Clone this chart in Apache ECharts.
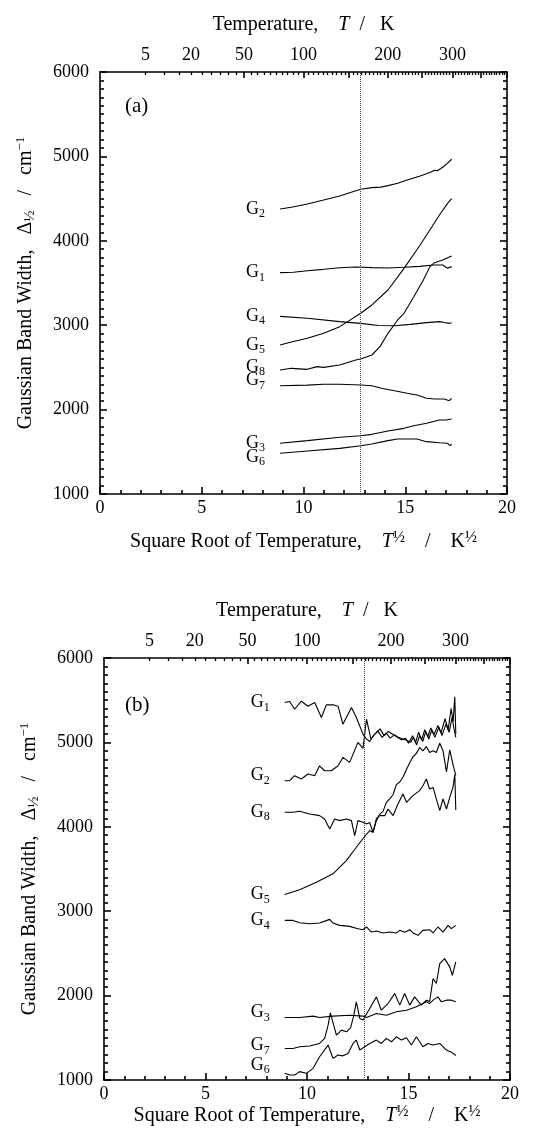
<!DOCTYPE html>
<html><head><meta charset="utf-8">
<script src="https://cdn.jsdelivr.net/npm/echarts@6/dist/echarts.min.js"></script>
<style>html,body{margin:0;padding:0;background:#fff}#c{width:544px;height:1145px}</style>
</head><body><div id="c"></div>
<script>
const FONT = 'Liberation Serif';

// ---- tick / label values ----
const topLabelT = [5, 20, 50, 100, 200, 300];
const topMajorT = [50, 100, 150, 200, 250, 300, 350, 400];
const topMinorT = [5,10,15,20,25,30,35,40,45,55,60,65,70,75,80,85,90,95,105,110,115,120,125,130,135,140,145,155,160,165,170,175,180,185,190,195,205,210,215,220,225,230,235,240,245,255,260,265,270,275,280,285,290,295,305,310,315,320,325,330,335,340,345,355,360,365,370,375,380,385,390,395];
const yRange = [1000, 6000];
const tgLine = 12.8; // dotted reference line, sqrt(K)

// ---- panel (a) ----
const a_G2 = [[8.85,4377],[9.40,4397],[10.19,4437],[10.99,4484],[11.78,4531],[12.57,4594],[12.81,4610],[13.36,4630],[13.8,4636],[14.15,4654],[14.63,4682],[15.10,4721],[15.73,4768],[16.21,4808],[16.44,4836],[16.6,4832],[16.84,4871],[17.08,4920],[17.28,4966]];
const a_G1 = [[8.85,3623],[9.5,3628],[10.19,3646],[10.99,3662],[11.78,3680],[12.57,3690],[13.36,3682],[14.15,3678],[14.94,3686],[15.73,3697],[16.37,3713],[16.84,3713],[17.08,3674],[17.28,3694]];
const a_G5 = [[8.85,2766],[9.40,2800],[10.19,2845],[10.99,2904],[11.78,2983],[12.17,3042],[12.81,3141],[13.36,3240],[14.15,3417],[14.94,3674],[15.73,3950],[16.21,4128],[16.68,4306],[17.08,4444],[17.28,4500]];
const a_G8 = [[8.85,2469],[9.40,2489],[10.19,2477],[10.67,2509],[10.99,2500],[11.78,2529],[12.57,2588],[12.81,2600],[13.36,2647],[13.76,2746],[14.15,2904],[14.63,3062],[14.94,3141],[15.42,3338],[15.89,3536],[16.21,3694],[16.44,3741],[16.84,3773],[17.28,3820]];
const a_G4 = [[8.85,3105],[10.19,3082],[11.78,3042],[12.81,3022],[13.68,2996],[14.47,2994],[15.26,3010],[16.05,3030],[16.7,3042],[16.92,3032],[17.16,3022],[17.28,3030]];
const a_G7 = [[8.85,2283],[10.19,2290],[10.99,2300],[11.78,2300],[12.81,2292],[13.36,2283],[13.83,2252],[14.47,2224],[15.10,2193],[15.57,2173],[16.05,2134],[16.44,2126],[16.92,2126],[17.16,2106],[17.28,2134]];
const a_G3 = [[8.85,1601],[10.19,1632],[11.78,1672],[12.81,1691],[13.36,1707],[14.15,1747],[14.94,1778],[15.42,1809],[16.05,1838],[16.68,1877],[17.0,1877],[17.28,1889]];
const a_G6 = [[8.85,1482],[10.19,1510],[11.78,1541],[12.81,1572],[13.36,1592],[14.15,1632],[14.63,1652],[15.57,1652],[16.05,1620],[16.68,1608],[17.08,1601],[17.20,1572],[17.28,1592]];

// ---- panel (b) ----
const b_G1 = [[8.90,5472],[9.15,5484],[9.39,5393],[9.72,5488],[10.05,5429],[10.38,5472],[10.71,5295],[10.95,5445],[11.28,5445],[11.53,5429],[11.77,5216],[12.19,5413],[12.43,5295],[12.76,5098],[12.93,5039],[13.09,5010],[13.3,5090],[13.5,5130],[13.7,5060],[13.9,5110],[14.1,5050],[14.3,5090],[14.5,5060],[14.7,5040],[14.9,5030],[15.1,5000],[15.25,5060],[15.4,4970],[15.55,5080],[15.7,5010],[15.85,5130],[16.0,5040],[16.15,5150],[16.3,5060],[16.5,5180],[16.65,5080],[16.85,5220],[17.0,5120],[17.15,5300],[17.25,5150],[17.33,5060]];
const b_G2 = [[8.90,4546],[9.15,4546],[9.39,4605],[9.72,4566],[10.05,4625],[10.38,4605],[10.62,4723],[10.87,4664],[11.2,4664],[11.53,4723],[11.77,4822],[12.1,4763],[12.51,5000],[12.76,4930],[12.93,5275],[13.15,5040],[13.42,5120],[13.6,5160],[13.8,5080],[14.0,5130],[14.2,5100],[14.45,5060],[14.65,5030],[14.85,5050],[15.0,4990],[15.2,5080],[15.35,5000],[15.5,5120],[15.65,5030],[15.8,5150],[15.95,5070],[16.1,5170],[16.25,5090],[16.45,5200],[16.6,5110],[16.8,5280],[16.95,5150],[17.1,5400],[17.2,5250],[17.28,5540],[17.33,5100]];
const b_G8 = [[8.90,4172],[9.31,4172],[9.64,4184],[10.13,4152],[10.62,4132],[10.87,4093],[11.12,3975],[11.36,4093],[11.61,4073],[11.94,4093],[12.19,4073],[12.35,3896],[12.51,4073],[12.76,4054],[12.93,4034],[13.09,4050],[13.25,3935],[13.42,4100],[13.58,4132],[13.83,4132],[13.99,4211],[14.24,4132],[14.48,4270],[14.73,4389],[14.9,4290],[15.22,4369],[15.55,4428],[15.71,4487],[15.88,4566],[16.04,4448],[16.21,4467],[16.37,4330],[16.54,4191],[16.7,4330],[16.87,4211],[17.03,4349],[17.19,4467],[17.28,4620],[17.33,4200]];
const b_G5 = [[8.90,3199],[9.64,3254],[10.46,3344],[11.28,3443],[11.94,3600],[12.43,3758],[12.81,3876],[13.09,3955],[13.25,3935],[13.42,4073],[13.58,4150],[13.74,4180],[13.91,4290],[14.07,4330],[14.24,4380],[14.40,4500],[14.57,4530],[14.73,4590],[14.9,4680],[15.06,4760],[15.22,4830],[15.39,4870],[15.55,4940],[15.71,4900],[15.88,4950],[16.04,4880],[16.21,4900],[16.37,4880],[16.54,4990],[16.7,4900],[16.87,4650],[17.03,4910],[17.19,4740],[17.33,4610]];
const b_G4 = [[8.90,2891],[9.31,2891],[9.64,2864],[10.13,2852],[10.62,2860],[11.12,2903],[11.28,2860],[11.61,2832],[12.10,2820],[12.51,2793],[12.76,2781],[12.93,2813],[13.17,2753],[13.42,2765],[13.74,2742],[14.07,2753],[14.40,2742],[14.57,2773],[14.81,2750],[15.06,2781],[15.22,2742],[15.47,2714],[15.71,2773],[16.04,2781],[16.21,2742],[16.45,2813],[16.70,2753],[16.95,2832],[17.11,2793],[17.33,2832]];
const b_G3 = [[8.90,1741],[9.64,1741],[10.30,1757],[10.62,1741],[11.28,1757],[12.10,1768],[12.76,1757],[12.93,1741],[13.42,1788],[13.91,1768],[14.40,1808],[14.90,1827],[15.39,1867],[15.88,1926],[16.04,1906],[16.21,1946],[16.45,1985],[16.62,1926],[16.87,1946],[17.11,1946],[17.33,1926]];
const b_G7 = [[8.90,1374],[9.31,1374],[9.64,1394],[10.13,1402],[10.62,1433],[10.87,1493],[11.04,1650],[11.15,1796],[11.45,1532],[11.7,1591],[11.95,1571],[12.15,1620],[12.3,1760],[12.43,1926],[12.6,1729],[12.76,1710],[13.09,1847],[13.42,1985],[13.66,1827],[13.99,1906],[14.32,2024],[14.57,1887],[14.81,2024],[15.06,1887],[15.30,1985],[15.63,1887],[15.88,1946],[16.04,1930],[16.21,2202],[16.37,2143],[16.54,2379],[16.78,2438],[17.03,2340],[17.16,2241],[17.33,2399]];
const b_G6 = [[8.90,1079],[9.15,1059],[9.39,1059],[9.64,1099],[9.97,1079],[10.30,1138],[10.62,1276],[11.04,1414],[11.28,1256],[11.53,1296],[11.77,1286],[12.02,1315],[12.27,1433],[12.43,1473],[12.60,1355],[12.84,1394],[13.09,1433],[13.42,1473],[13.66,1433],[13.91,1493],[14.16,1453],[14.40,1512],[14.65,1473],[14.90,1500],[15.14,1414],[15.39,1512],[15.71,1394],[15.96,1433],[16.21,1414],[16.54,1433],[16.87,1355],[17.11,1330],[17.33,1290]];

const panelA = [['1',a_G1,0],['2',a_G2,0],['3',a_G3,0],['4',a_G4,0],['5',a_G5,0],['6',a_G6,4],['7',a_G7,-5],['8',a_G8,-3]];
const panelB = [['1',b_G1,0],['2',b_G2,-5],['3',b_G3,-5],['4',b_G4,0],['5',b_G5,0],['6',b_G6,-8],['7',b_G7,-3],['8',b_G8,0]];

const black = '#000';
const nameStyle = {
  color: black, fontFamily: FONT, fontSize: 20, lineHeight: 24,
  rich: {
    i: {fontFamily: FONT, fontSize: 20, fontStyle: 'italic', lineHeight: 24, verticalAlign: 'middle', color: black},
    sup: {fontFamily: FONT, fontSize: 16, lineHeight: 15, verticalAlign: 'top', color: black},
    sup2: {fontFamily: FONT, fontSize: 13, lineHeight: 12, verticalAlign: 'top', color: black},
    sub: {fontFamily: FONT, fontSize: 15, lineHeight: 13, verticalAlign: 'bottom', color: black}
  }
};
const lineSt = {color: black, width: 1.6};
const tickSt = {color: black, width: 1.6};

function xAxes(g, bottomGap) {
  return [
    {gridIndex: g, type: 'value', min: 0, max: 20, interval: 5, position: 'bottom',
     axisLine: {show: true, onZero: false, lineStyle: lineSt},
     axisTick: {show: true, inside: true, length: 7, lineStyle: tickSt},
     minorTick: {show: true, splitNumber: 5, length: 4, lineStyle: tickSt},
     splitLine: {show: false}, minorSplitLine: {show: false},
     axisLabel: {color: black, fontFamily: FONT, fontSize: 18, margin: 5},
     name: 'Square Root of Temperature,    {i|T}{sup|½}    /    K{sup|½}', nameLocation: 'middle', nameGap: bottomGap, nameTextStyle: nameStyle},
    {gridIndex: g, type: 'value', min: 0, max: 20, position: 'top',
     axisLine: {show: true, onZero: false, lineStyle: lineSt},
     axisTick: {show: true, inside: true, length: 6, lineStyle: tickSt, customValues: topMajorT.map(Math.sqrt)},
     splitLine: {show: false},
     axisLabel: {color: black, fontFamily: FONT, fontSize: 18, margin: 8,
       customValues: topLabelT.map(Math.sqrt), formatter: v => String(Math.round(v * v))},
     name: 'Temperature,    {i|T}  /   K', nameLocation: 'middle', nameGap: 35, nameTextStyle: nameStyle},
    {gridIndex: g, type: 'value', min: 0, max: 20, position: 'top',
     axisLine: {show: false, onZero: false},
     axisTick: {show: true, inside: true, length: 3, lineStyle: {color: black, width: 1.3}, customValues: topMinorT.map(Math.sqrt)},
     splitLine: {show: false}, axisLabel: {show: false}}
  ];
}
function yAxes(g) {
  const common = {gridIndex: g, type: 'value', min: yRange[0], max: yRange[1], interval: 1000,
    axisLine: {show: true, onZero: false, lineStyle: lineSt},
    axisTick: {show: true, inside: true, length: 7, lineStyle: tickSt},
    minorTick: {show: true, splitNumber: 10, length: 4, lineStyle: tickSt},
    splitLine: {show: false}, minorSplitLine: {show: false}};
  return [
    Object.assign({}, common, {position: 'left',
      axisLabel: {color: black, fontFamily: FONT, fontSize: 18, margin: 11, formatter: v => String(v)},
      name: 'Gaussian Band Width,   Δ{sub|½}   /   cm{sup2|−1}', nameLocation: 'middle', nameGap: 62, nameRotate: 90,
      nameTextStyle: nameStyle}),
    Object.assign({}, common, {position: 'right', axisLabel: {show: false}})
  ];
}

function makeSeries(panel, xi, yi) {
  return panel.map(([n, data, dy], k) => ({
    type: 'line', xAxisIndex: xi, yAxisIndex: yi, data: data,
    symbol: 'circle', symbolSize: 0, showSymbol: true, silent: true,
    lineStyle: {color: black, width: 1.1}, itemStyle: {color: black},
    label: {show: true, position: 'left', distance: 15, offset: [0, dy],
      formatter: p => p.dataIndex === 0 ? '{g|G}{s|' + n + '}' : '',
      rich: {g: {fontFamily: FONT, fontSize: 18, lineHeight: 22, verticalAlign: 'middle', color: black},
             s: {fontFamily: FONT, fontSize: 12, lineHeight: 10, verticalAlign: 'bottom', color: black}}},
    markLine: k === 0 ? {silent: true, symbol: ['none', 'none'], label: {show: false},
      lineStyle: {color: '#444', type: 'dotted', width: 1}, data: [{xAxis: tgLine}]} : undefined
  }));
}

const chart = echarts.init(document.getElementById('c'), null, {renderer: 'canvas'});
chart.setOption({
  animation: false,
  backgroundColor: '#fff',
  grid: [{left: 100, top: 72, width: 407, height: 422}, {left: 104, top: 658, width: 406, height: 422}],
  xAxis: xAxes(0, 36).concat(xAxes(1, 24)),
  yAxis: yAxes(0).concat(yAxes(1)),
  graphic: [
    {type: 'text', left: 125, top: 96, style: {text: '(a)', fontFamily: FONT, fontSize: 21, fill: black}},
    {type: 'text', left: 125, top: 695, style: {text: '(b)', fontFamily: FONT, fontSize: 21, fill: black}}
  ],
  series: makeSeries(panelA, 0, 0).concat(makeSeries(panelB, 3, 2))
});
</script></body></html>
